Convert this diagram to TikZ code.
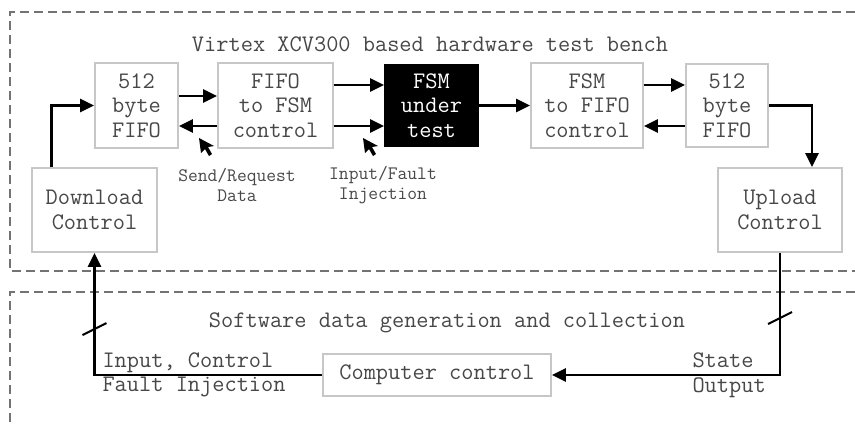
\documentclass[tikz,border=0pt]{standalone}
\usepackage{fontspec}
\usetikzlibrary{arrows.meta}
\definecolor{txtgray}{gray}{0.28}
\definecolor{boxgray}{gray}{0.78}
\definecolor{framegray}{gray}{0.45}
\newcommand{\mousearrow}[1]{\fill[black] (#1) -- ++(2,15) -- ++(4,-4) -- ++(4,7) -- ++(3,-2) -- ++(-4,-7) -- ++(6,-1) -- cycle;}

\begin{document}
\begin{tikzpicture}[x=1pt,y=-1pt,>={Triangle[length=14pt,width=13pt]},
	every node/.style={font=\ttfamily\fontsize{23.7}{24.5}\selectfont,text=txtgray},
	box/.style={draw=boxgray,line width=1.8pt,inner sep=0pt,align=center},
	fsm node/.style={box,draw=black,fill=black,text=white},
	conn/.style={->,line width=2.8pt},
	frame/.style={draw=framegray,line width=2pt,dash pattern=on 9pt off 5pt},
	small label/.style={font=\ttfamily\fontsize{19}{20}\selectfont,align=center},
	bus/.style={line width=2pt}]
	\useasboundingbox (0,0) rectangle (855,424);

	% dashed frames
	\draw[frame] (855,12) -| (10,271) -- (855,271);
	\draw[frame] (855,292) -| (10,424);
	\node (hwtitle) at (430,44) {Virtex XCV300 based hardware test bench};
	\node (swtitle) at (447,323) {Software data generation and collection};

	% hardware row
	\node[box,minimum width=83pt,minimum height=85pt] (infifo) at (136.5,105.5) {512\\byte\\FIFO};
	\node[box,minimum width=115pt,minimum height=85pt] (inctrl) at (275.5,105.5) {FIFO\\to FSM\\control};
	\node[fsm node,minimum width=93pt,minimum height=82pt] (fsm) at (431.5,105.5) {FSM\\under\\test};
	\node[box,minimum width=112pt,minimum height=85pt] (outctrl) at (587,105.5) {FSM\\to FIFO\\control};
	\node[box,minimum width=82pt,minimum height=83pt] (outfifo) at (727,105.5) {512\\byte\\FIFO};
	\node[box,minimum width=125pt,minimum height=84pt] (download) at (94.5,210) {Download\\Control};
	\node[box,minimum width=124pt,minimum height=84pt] (upload) at (780,210) {Upload\\Control};
	\node[box,minimum width=228pt,minimum height=42pt] (computer) at (437,375) {Computer control};

	\path[conn]
		([yshift=9.5pt]infifo.east) edge ([yshift=9.5pt]inctrl.west)
		([yshift=-20.5pt]inctrl.west) edge ([yshift=-20.5pt]infifo.east)
		([yshift=20.5pt]inctrl.east) edge ([yshift=20.5pt]fsm.west)
		([yshift=-20.5pt]inctrl.east) edge ([yshift=-20.5pt]fsm.west)
		(fsm.east) edge (outctrl.west)
		([yshift=20.5pt]outctrl.east) edge ([yshift=20.5pt]outfifo.west)
		([yshift=-20.5pt]outfifo.west) edge ([yshift=-20.5pt]outctrl.east);
	\draw[conn] ([xshift=20pt]download.north west) |- (infifo.west);
	\draw[conn] (outfifo.east) -| ([xshift=32pt]upload.north);
	\draw[conn] (upload.south) |- (computer.east);
	\draw[conn] (computer.west) -| (download.south);

	% bus marks
	\coordinate (lbus) at (94.5,329);
	\coordinate (rbus) at (780,318);
	\draw[bus] (lbus) ++(-12,6) -- ++(24,-12);
	\draw[bus] (rbus) ++(-12,6) -- ++(24,-12);

	% labels
	\mousearrow{199,138}
	\mousearrow{363,138}
	\node[small label] (sendlbl) at (237,185) {Send/Request\\Data};
	\node[small label] (faultlbl) at (383,185) {Input/Fault\\Injection};
	\node[align=left,anchor=west] (inlbl) at (99,375) {Input, Control\\Fault Injection};
	\node[align=left,anchor=west] (outlbl) at (689,375) {State\\Output};
\end{tikzpicture}
\end{document}
